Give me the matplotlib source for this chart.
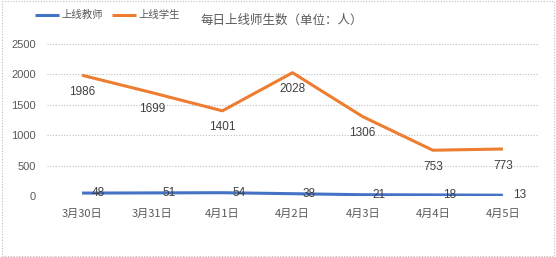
import matplotlib.pyplot as plt
from matplotlib.patches import Rectangle

plt.rcParams['font.family'] = ['Noto Sans CJK SC', 'DejaVu Sans']

dates = ['3月30日', '3月31日', '4月1日', '4月2日', '4月3日', '4月4日', '4月5日']
teachers = [48, 51, 54, 38, 21, 18, 13]
students = [1986, 1699, 1401, 2028, 1306, 753, 773]
yticks = [0, 500, 1000, 1500, 2000, 2500]

fig = plt.figure(figsize=(5.56, 2.57), dpi=100)
ax = fig.add_axes([47 / 556, 1 - 196 / 257, (538 - 47) / 556, 152 / 257])

x = list(range(len(dates)))
ax.plot(x, teachers, color='#4472C4', lw=2.2, label='上线教师', solid_capstyle='butt')
ax.plot(x, students, color='#ED7D31', lw=2.2, label='上线学生', solid_capstyle='butt')

for i, v in enumerate(students):
    ax.annotate(str(v), (i, v), xytext=(0, -12), textcoords='offset points',
                ha='center', va='center', fontsize=8.5, color='#404040',
                family='Liberation Sans')
for i, v in enumerate(teachers):
    ax.annotate(str(v), (i, v), xytext=(12, 0), textcoords='offset points',
                ha='center', va='center', fontsize=8.5, color='#404040',
                family='Liberation Sans')

ax.set_xlim(-0.5, len(dates) - 0.5)
ax.set_ylim(0, 2500)
ax.set_yticks(yticks)
ax.set_yticklabels([str(t) for t in yticks], family='Liberation Sans')
ax.set_xticks(x)
ax.set_xticklabels(dates)
ax.tick_params(length=0, labelsize=8, colors='#595959')
ax.tick_params(axis='y', pad=8)
ax.tick_params(axis='x', pad=9)
ax.grid(axis='y', color='#BFBFBF', lw=0.8, ls=(0, (1, 1.5)))
ax.set_axisbelow(True)
for s in ax.spines.values():
    s.set_visible(False)

fig.legend(loc='upper left', bbox_to_anchor=(26 / 556, 1 - 1 / 257), ncol=2,
           frameon=False, fontsize=7.5, labelcolor='#595959', handlelength=2.3,
           handletextpad=0.2, columnspacing=0.9)
fig.text(282 / 556, 1 - 20 / 257, '每日上线师生数（单位：人）', ha='center', va='center',
         fontsize=9, color='#595959')

fig.patches.append(Rectangle((0.003, 0.004), 0.994, 0.992, transform=fig.transFigure,
                             fill=False, ec='#BFBFBF', lw=0.8, ls=(0, (1, 1.5))))

fig.savefig('out.png', dpi=100)
